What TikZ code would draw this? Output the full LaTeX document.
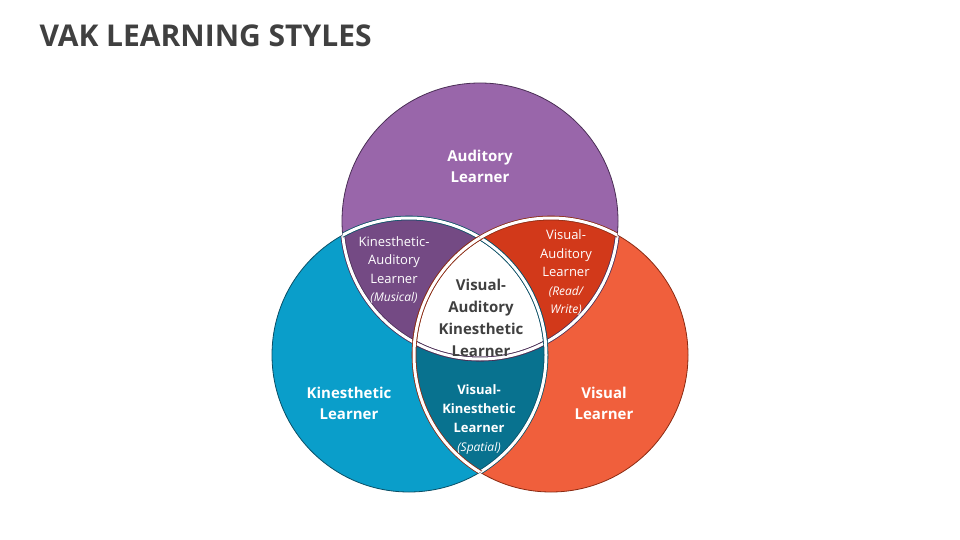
\documentclass[tikz,border=0pt]{standalone}
\usepackage{fontspec}
\setmainfont{Open Sans}
\definecolor{cTop}{HTML}{9966AA}
\definecolor{cKA}{HTML}{744A84}
\definecolor{cVA}{HTML}{D2391A}
\definecolor{cV}{HTML}{F05F3C}
\definecolor{cK}{HTML}{0A9ECA}
\definecolor{cVK}{HTML}{08728F}
\definecolor{cTxt}{HTML}{404040}
\definecolor{oTop}{HTML}{4A2E55}
\definecolor{oK}{HTML}{0B4F66}
\definecolor{oV}{HTML}{8A2A12}
\tikzset{
  lbl/.style={text=white,font=\bfseries\fontsize{15}{21}\selectfont,align=center},
  slbl/.style={text=white,font=\fontsize{13}{18.5}\selectfont,align=center},
  clbl/.style={text=cTxt,font=\bfseries\fontsize{15}{22}\selectfont,align=center},
  gap/.style={draw=#1,line width=0.8pt,double=white,double distance=3pt},
}
\begin{document}
\begin{tikzpicture}[x=1pt,y=-1pt]
\useasboundingbox (0,0) rectangle (960,540);
\def\T{(480,221) circle[radius=138]}
\def\L{(409,355) circle[radius=137]}
\def\R{(551,355) circle[radius=137]}
\node[anchor=west,text=cTxt,font=\bfseries\fontsize{30}{34}\selectfont] (title) at (36,36) {VAK LEARNING STYLES};
% base fills
\fill[cTop] \T; \fill[cK] \L; \fill[cV] \R;
\begin{scope}\clip \T; \fill[cKA] \L; \end{scope}
\begin{scope}\clip \T; \fill[cVA] \R; \end{scope}
\begin{scope}\clip \L; \fill[cVK] \R; \end{scope}
\begin{scope}\clip \T; \clip \L; \fill[white] \R; \end{scope}
% outer outlines
\draw[oTop,line width=0.8pt] \T;
\draw[oK,line width=0.8pt] \L;
\draw[oV,line width=0.8pt] \R;
% interior gaps
\begin{scope}\clip \L; \draw[gap=oTop] \T; \end{scope}
\begin{scope}\clip \R; \draw[gap=oTop] \T; \end{scope}
\begin{scope}\clip \T; \draw[gap=oK] \L; \end{scope}
\begin{scope}\clip \R; \draw[gap=oK] \L; \end{scope}
\begin{scope}\clip \T; \draw[gap=oV] \R; \end{scope}
\begin{scope}\clip \L; \draw[gap=oV] \R; \end{scope}
% labels
\node[lbl] (a) at (480,166) {Auditory\\Learner};
\node[lbl] (k) at (349,403) {Kinesthetic\\Learner};
\node[lbl] (v) at (604,403) {Visual\\Learner};
\node[slbl] (ka) at (394,270) {Kinesthetic-\\Auditory\\Learner\\{\itshape\fontsize{12}{17}\selectfont(Musical)}};
\node[slbl] (va) at (566,273) {Visual-\\Auditory\\Learner\\{\itshape\fontsize{12}{16}\selectfont(Read/}\\{\itshape\fontsize{12}{16}\selectfont Write)}};
\node[clbl] (c) at (481,318) {Visual-\\Auditory\\Kinesthetic\\Learner};
\node[slbl,font=\bfseries\fontsize{13}{19}\selectfont] (vk) at (479,419) {Visual-\\Kinesthetic\\Learner\\{\mdseries\itshape\fontsize{12}{19}\selectfont(Spatial)}};
\end{tikzpicture}
\end{document}
